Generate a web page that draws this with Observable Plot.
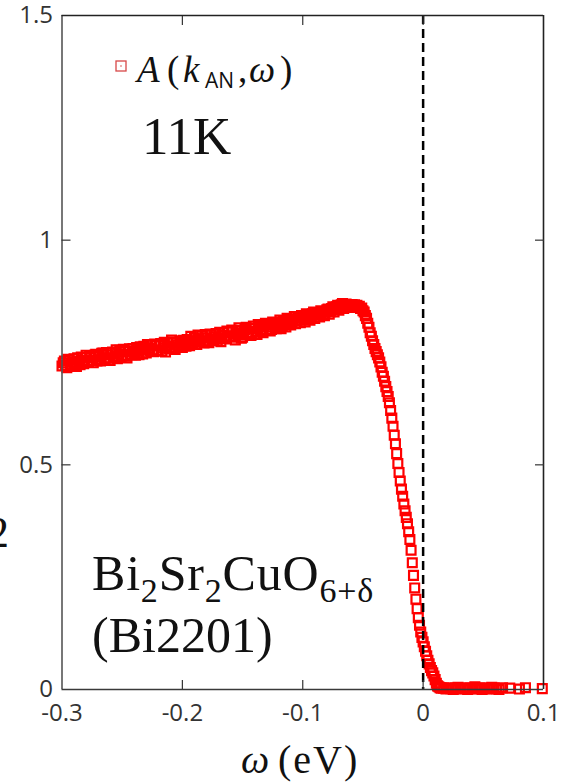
<!DOCTYPE html>
<html>
<head>
<meta charset="utf-8">
<script src="https://cdn.jsdelivr.net/npm/d3@7"></script>
<script src="https://cdn.jsdelivr.net/npm/@observablehq/plot@0.6"></script>
<style>
  html, body { margin: 0; padding: 0; background: #fff; overflow: hidden; }
  #chart { width: 567px; height: 783px; }
</style>
</head>
<body>
<div id="chart"></div>
<script>
// Antinodal spectral function A(k_AN, ω) of Bi2201 at 11 K.
// Energies in meV. Deep below the Fermi level: even-meV sweep ...
const omegaDeepMeV = [
  -300,-298,-296,-294,-292,-290,-288,-286,-284,-282,
  -280,-278,-276,-274,-272,-270,-268,-266,-264,-262,
  -260,-258,-256,-254,-252,-250,-248,-246,-244,-242,
  -240,-238,-236,-234,-232,-230,-228,-226,-224,-222,
  -220,-218,-216,-214,-212,-210,-208,-206,-204,-202,
  -200,-198,-196,-194,-192,-190,-188,-186,-184,-182,
  -180,-178,-176,-174,-172,-170,-168,-166,-164,-162,
  -160,-158,-156,-154,-152,-150,-148,-146,-144,-142,
  -140,-138,-136,-134,-132,-130,-128,-126,-124,-122,
  -120,-118,-116,-114,-112,-110,-108,-106,-104,-102,
  -100,-98,-96,-94,-92,-90,-88,-86,-84,-82,
  -80,-78,-76,-74,-72,-70,-68,-66,-64,-62
];
const intensityDeep = [
  0.720,0.731,0.716,0.733,0.724,0.736,0.719,0.730,0.740,0.725,
  0.744,0.729,0.739,0.727,0.746,0.734,0.731,0.749,0.737,0.745,
  0.732,0.751,0.741,0.736,0.755,0.743,0.752,0.738,0.758,0.745,
  0.750,0.761,0.745,0.757,0.764,0.749,0.760,0.767,0.752,0.765,
  0.755,0.770,0.760,0.751,0.771,0.762,0.774,0.757,0.767,0.776,
  0.761,0.773,0.779,0.765,0.776,0.783,0.768,0.780,0.787,0.771,
  0.783,0.772,0.789,0.777,0.792,0.781,0.774,0.794,0.783,0.796,
  0.784,0.797,0.778,0.799,0.789,0.784,0.801,0.790,0.803,0.793,
  0.804,0.790,0.808,0.796,0.810,0.799,0.812,0.801,0.815,0.803,
  0.816,0.803,0.819,0.807,0.822,0.811,0.824,0.814,0.827,0.816,
  0.830,0.818,0.833,0.822,0.836,0.826,0.839,0.829,0.841,0.832,
  0.845,0.835,0.848,0.840,0.852,0.844,0.856,0.848,0.858,0.850
];

// ... and the odd-meV sweep over the same range.
const omegaDeepOddMeV = [
  -299,-297,-295,-293,-291,-289,-287,-285,-283,-281,
  -279,-277,-275,-273,-271,-269,-267,-265,-263,-261,
  -259,-257,-255,-253,-251,-249,-247,-245,-243,-241,
  -239,-237,-235,-233,-231,-229,-227,-225,-223,-221,
  -219,-217,-215,-213,-211,-209,-207,-205,-203,-201,
  -199,-197,-195,-193,-191,-189,-187,-185,-183,-181,
  -179,-177,-175,-173,-171,-169,-167,-165,-163,-161,
  -159,-157,-155,-153,-151,-149,-147,-145,-143,-141,
  -139,-137,-135,-133,-131,-129,-127,-125,-123,-121,
  -119,-117,-115,-113,-111,-109,-107,-105,-103,-101,
  -99,-97,-95,-93,-91,-89,-87,-85,-83,-81,
  -79,-77,-75,-73,-71,-69,-67,-65,-63
];
const intensityDeepOdd = [
  0.727,0.722,0.735,0.721,0.729,0.727,0.738,0.723,0.733,0.739,
  0.730,0.742,0.733,0.744,0.731,0.741,0.748,0.735,0.750,0.738,
  0.749,0.737,0.756,0.747,0.740,0.757,0.742,0.754,0.746,0.759,
  0.744,0.754,0.763,0.747,0.758,0.768,0.753,0.756,0.769,0.754,
  0.766,0.753,0.773,0.765,0.758,0.778,0.760,0.772,0.763,0.767,
  0.777,0.764,0.770,0.786,0.771,0.775,0.789,0.774,0.776,0.790,
  0.774,0.791,0.780,0.785,0.776,0.795,0.788,0.780,0.798,0.787,
  0.800,0.786,0.792,0.805,0.782,0.797,0.806,0.795,0.788,0.809,
  0.797,0.812,0.801,0.794,0.815,0.806,0.798,0.818,0.808,0.811,
  0.822,0.810,0.813,0.826,0.815,0.818,0.830,0.820,0.822,0.832,
  0.824,0.836,0.827,0.830,0.840,0.833,0.835,0.843,0.836,0.840,
  0.847,0.841,0.852,0.846,0.855,0.849,0.859,0.853,0.855
];

// Gap edge region, 1 meV steps.
const omegaEdgeMeV = [
  -61,-60,-59,-58,-57,-56,-55,-54,-53,-52,
  -51,-50,-49,-48,-47,-46,-45,-44,-43,-42,
  -41,-40,-39,-38,-37,-36,-35,-34,-33,-32,
  -31,-30,-29,-28,-27,-26,-25,-24,-23,-22,
  -21,-20,-19,-18,-17,-16,-15,-14,-13,-12,
  -11,-10,-9,-8,-7,-6,-5,-4,-3,-2,
  -1,0,1,2,3,4,5,6,7,8,
  9,10,11,12,13,14,15
];
const intensityEdge = [
  0.855,0.851,0.857,0.853,0.856,0.852,0.855,0.850,0.853,0.848,
  0.849,0.843,0.840,0.832,0.826,0.815,0.806,0.794,0.786,0.776,
  0.768,0.759,0.752,0.745,0.738,0.729,0.718,0.706,0.697,0.686,
  0.674,0.663,0.652,0.638,0.621,0.604,0.586,0.566,0.547,0.525,
  0.503,0.483,0.464,0.446,0.430,0.413,0.398,0.383,0.369,0.351,
  0.334,0.310,0.282,0.254,0.226,0.201,0.180,0.160,0.143,0.128,
  0.116,0.106,0.095,0.085,0.075,0.065,0.057,0.049,0.042,0.037,
  0.030,0.022,0.014,0.008,0.006,0.004,0.003
];

// Above the Fermi level.
const omegaAboveMeV = [
  17,19,21,23,25,27,29,31,33,35,
  37,39,41,43,45,47,49,51,53,55,
  57,59,61,63,66,72,80,85,99
];
const intensityAbove = [
  0.003,0.001,0.004,0.002,0.000,0.003,0.005,0.001,0.002,0.004,
  0.000,0.003,0.001,0.006,0.002,0.003,0.000,0.004,0.002,0.001,
  0.005,0.003,0.002,0.000,0.004,0.003,0.001,0.004,0.002
];

const xTicks = [-0.3, -0.2, -0.1, 0, 0.1];
const xTickLabels = ["-0.3", "-0.2", "-0.1", "0", "0.1"];
const yTicks = [0, 0.5, 1, 1.5];
const yTickLabels = ["0", "0.5", "1", "1.5"];
const xInnerTicks = [-0.2, -0.1, 0];
const yInnerTicks = [0.5, 1];
const fermiLevel = [0];

const toRows = (omegas, values) => omegas.map((w, i) => ({omega: w / 1000, A: values[i]}));
const spectrum = [
  ...toRows(omegaDeepMeV, intensityDeep),
  ...toRows(omegaDeepOddMeV, intensityDeepOdd),
  ...toRows(omegaEdgeMeV, intensityEdge),
  ...toRows(omegaAboveMeV, intensityAbove)
];

const tickFont = "'Open Sans', 'DejaVu Sans', sans-serif";
const serif = "'Liberation Serif', 'DejaVu Serif', serif";

const plot = Plot.plot({
  width: 567,
  height: 783,
  marginLeft: 61.5,
  marginRight: 24,
  marginTop: 15,
  marginBottom: 94,
  style: {fontFamily: tickFont, fontSize: "24px", background: "#fff", overflow: "visible"},
  x: {domain: [-0.3, 0.1], axis: null},
  y: {domain: [0, 1.5], axis: null},
  marks: [
    Plot.dot(spectrum, {
      x: "omega", y: "A", symbol: "square", r: 5,
      stroke: "#ff0000", strokeWidth: 2.2, fill: "none"
    }),
    Plot.ruleX(fermiLevel, {stroke: "#000", strokeWidth: 2.5, strokeDasharray: "9,5"}),
    // frame: left/bottom lighter, top/right darker
    Plot.ruleX([-0.3], {stroke: "#555", strokeWidth: 1.6}),
    Plot.ruleY([0], {stroke: "#3a3a3a", strokeWidth: 1.6}),
    Plot.ruleX([0.1], {stroke: "#222", strokeWidth: 1.6}),
    Plot.ruleY([1.5], {stroke: "#222", strokeWidth: 1.6}),
    // inward ticks on all four sides
    Plot.axisX(xInnerTicks, {anchor: "bottom", label: null, tickSize: -9, tickFormat: () => "", stroke: "#333", strokeWidth: 1.2}),
    Plot.axisX(xInnerTicks, {anchor: "top", label: null, tickSize: -9, tickFormat: () => "", stroke: "#333", strokeWidth: 1.2}),
    Plot.axisY(yInnerTicks, {anchor: "left", label: null, tickSize: -9, tickFormat: () => "", stroke: "#333", strokeWidth: 1.2}),
    Plot.axisY(yInnerTicks, {anchor: "right", label: null, tickSize: -9, tickFormat: () => "", stroke: "#333", strokeWidth: 1.2}),
    // tick labels
    Plot.axisX(xTicks, {
      anchor: "bottom", label: null, tickSize: 0, tickPadding: 14,
      tickFormat: d => xTickLabels[xTicks.indexOf(d)],
      fontSize: 24, fill: "#333"
    }),
    Plot.axisY(yTicks, {
      anchor: "left", label: null, tickSize: 0, tickPadding: 9,
      tickFormat: d => yTickLabels[yTicks.indexOf(d)],
      fontSize: 24, fill: "#333"
    })
  ]
});

document.getElementById("chart").appendChild(plot);

// Annotations: legend, temperature, compound and axis title
const svg = d3.select(plot);
const ann = svg.append("g")
  .attr("font-family", serif)
  .attr("fill", "#111")
  .attr("text-anchor", "start");

// legend swatch
ann.append("rect").attr("x", 116).attr("y", 61).attr("width", 10).attr("height", 10)
  .attr("fill", "none").attr("stroke", "#d84848").attr("stroke-width", 1.3);
ann.append("circle").attr("cx", 121).attr("cy", 66).attr("r", 0.8).attr("fill", "#d84848");

const legend = ann.append("text").attr("font-size", 37);
legend.append("tspan").attr("x", 137).attr("y", 82).attr("font-style", "italic").text("A");
legend.append("tspan").attr("x", 167).attr("y", 82).text("(");
legend.append("tspan").attr("x", 183).attr("y", 82).attr("font-style", "italic").text("k");
legend.append("tspan").attr("x", 205).attr("y", 88).attr("font-family", tickFont).attr("font-size", 21).text("AN");
legend.append("tspan").attr("x", 238).attr("y", 82).text(",");
legend.append("tspan").attr("x", 249).attr("y", 82).attr("font-style", "italic").text("ω");
legend.append("tspan").attr("x", 280).attr("y", 82).text(")");

ann.append("text").attr("x", 142).attr("y", 154).attr("font-size", 53).text("11K");

const formula = ann.append("text").attr("x", 92).attr("y", 590).attr("font-size", 50).attr("letter-spacing", 0.8);
formula.append("tspan").text("Bi");
formula.append("tspan").attr("font-size", 34).attr("dy", 12).text("2");
formula.append("tspan").attr("dy", -12).text("Sr");
formula.append("tspan").attr("font-size", 34).attr("dy", 12).text("2");
formula.append("tspan").attr("dy", -12).text("CuO");
formula.append("tspan").attr("font-size", 34).attr("dy", 12).text("6+δ");

ann.append("text").attr("x", 92).attr("y", 652).attr("font-size", 50).text("(Bi2201)");

const xTitle = ann.append("text").attr("font-size", 40);
xTitle.append("tspan").attr("x", 241).attr("y", 773).attr("font-style", "italic").text("ω");
xTitle.append("tspan").attr("x", 278).attr("y", 773).attr("letter-spacing", 2).text("(eV)");

ann.append("text").attr("x", 9).attr("y", 547).attr("font-size", 44).attr("text-anchor", "end").text("2");
</script>
</body>
</html>
